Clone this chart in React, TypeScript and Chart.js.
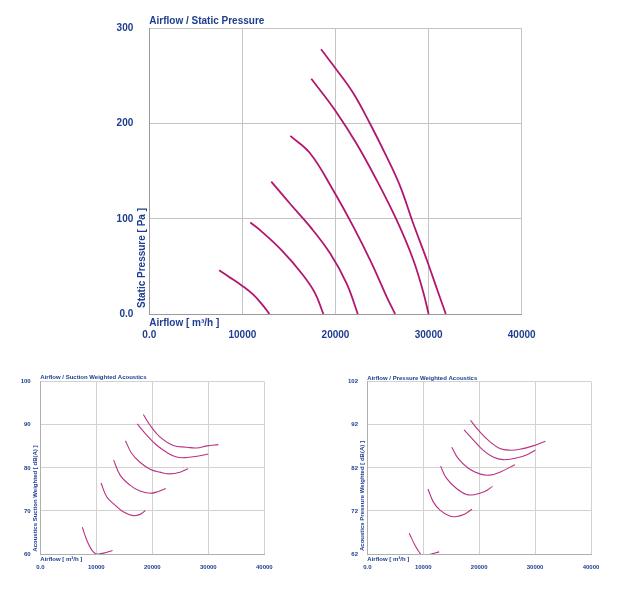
import React, { useEffect, useRef } from "react";
import { Chart, registerables } from "chart.js";

Chart.register(...registerables);

type Pt = [number, number];

// Axis tick labels
const airflowTicks = ["0.0", "10000", "20000", "30000", "40000"];
const staticPressureTicks = ["0.0", "100", "200", "300"];
const suctionDbTicks = ["60", "70", "80", "90", "100"];
const pressureDbTicks = ["62", "72", "82", "92", "102"];

// Airflow [m³/h] vs static pressure [Pa], one curve per speed step
const staticStep1: Pt[] = [[7500, 46], [8500, 39.5], [10000, 29.5], [11200, 20], [12200, 9], [12900, 0]];
const staticStep2: Pt[] = [[10850, 96], [11900, 88], [14200, 67], [16500, 41], [17800, 22], [18700, 0]];
const staticStep3: Pt[] = [[13100, 139], [15100, 116], [17250, 92], [19400, 64], [21200, 32], [22400, 0]];
const staticStep4: Pt[] = [[15150, 187], [17250, 169], [19750, 130], [21900, 92], [23900, 53], [25500, 18], [26400, 0]];
const staticStep5: Pt[] = [[17400, 247], [19950, 214], [22250, 179], [24400, 141], [26550, 99], [28350, 57], [29450, 22], [30000, 0]];
const staticStep6: Pt[] = [[18450, 278], [20150, 256], [21900, 232], [23700, 200], [25500, 165], [26950, 134], [28350, 95], [29800, 57], [31050, 22], [31850, 0]];

// Airflow vs suction side weighted sound level [dB(A)]
const suctionStep1: Pt[] = [[7500, 66.2], [8400, 62.9], [9200, 60.9], [9900, 60.05], [10400, 60.0], [11300, 60.2], [12900, 60.8]];
const suctionStep2: Pt[] = [[10850, 76.5], [11850, 73.3], [13300, 71.4], [14800, 69.8], [16600, 68.9], [17800, 69.2], [18750, 70.1]];
const suctionStep3: Pt[] = [[13100, 81.8], [14250, 78.3], [16000, 76.0], [17800, 74.6], [19600, 74.1], [21050, 74.5], [22400, 75.2]];
const suctionStep4: Pt[] = [[15200, 86.3], [16300, 83.4], [17800, 81.3], [19600, 79.7], [21350, 79.0], [23150, 78.6], [24950, 79.0], [26400, 79.8]];
const suctionStep5: Pt[] = [[17300, 90.2], [19000, 87.6], [20750, 85.3], [22550, 83.6], [24350, 82.5], [26150, 82.4], [28500, 82.8], [30000, 83.2]];
const suctionStep6: Pt[] = [[18400, 92.4], [19600, 89.9], [21350, 87.2], [23750, 85.2], [26150, 84.8], [27900, 84.6], [29700, 85.1], [31800, 85.4]];

// Airflow vs pressure side weighted sound level [dB(A)]
const pressureStep1: Pt[] = [[7500, 66.8], [8500, 64.1], [9300, 62.4], [9900, 61.5], [10900, 61.8], [12850, 62.5]];
const pressureStep2: Pt[] = [[10850, 77.1], [11800, 74.1], [13000, 72.2], [14750, 70.8], [15950, 70.7], [17450, 71.3], [18700, 72.4]];
const pressureStep3: Pt[] = [[13100, 82.4], [14150, 79.6], [15950, 77.2], [17750, 75.8], [19250, 75.8], [21000, 76.5], [22400, 77.7]];
const pressureStep4: Pt[] = [[15100, 86.8], [16250, 84.2], [18050, 81.9], [20100, 80.6], [21900, 80.3], [23700, 81.0], [26400, 82.7]];
const pressureStep5: Pt[] = [[17300, 90.8], [18950, 88.5], [20700, 86.1], [22500, 84.5], [24300, 83.9], [26650, 84.3], [28450, 85.0], [30050, 86.1]];
const pressureStep6: Pt[] = [[18450, 93.0], [20100, 90.4], [21900, 88.1], [23700, 86.5], [25500, 86.1], [27250, 86.3], [29650, 87.1], [31850, 88.2]];

const TEXT = "#1e3d8f";
const CURVE = "#b3166f";
const FONT = '"Liberation Sans", Arial, Helvetica, sans-serif';

interface PanelProps {
  left: number;
  top: number;
  width: number;
  height: number;
  area: { left: number; top: number; right: number; bottom: number };
  yMin: number;
  yMax: number;
  yStep: number;
  yLabels: string[];
  curves: Pt[][];
  title: string;
  xTitle: string;
  yTitle: string;
  fontSize: number;
  lineWidth: number;
  curveColor: string;
  gridColor: string;
  borderColor: string;
  xTickPad: number;
  yTickPad: number;
  titleDy: number;
  xTitleDy: number;
  yTitleDx: number;
  yTitleDy: number;
}

function CurvePanel(p: PanelProps) {
  const ref = useRef<HTMLCanvasElement | null>(null);

  useEffect(() => {
    if (!ref.current) return;
    const font = { family: FONT, size: p.fontSize, weight: "bold" as const };

    // Chart caption, x caption below the axis, rotated y caption next to the axis
    const captions = {
      id: "captions",
      afterDraw(chart: any) {
        const a = chart.chartArea;
        const ctx = chart.ctx as CanvasRenderingContext2D;
        ctx.save();
        ctx.fillStyle = TEXT;
        ctx.font = `bold ${p.fontSize}px ${FONT}`;
        ctx.textAlign = "left";
        ctx.textBaseline = "middle";
        ctx.fillText(p.title, a.left, a.top + p.titleDy);
        ctx.fillText(p.xTitle, a.left, a.bottom + p.xTitleDy);
        ctx.translate(a.left + p.yTitleDx, a.bottom + p.yTitleDy);
        ctx.rotate(-Math.PI / 2);
        ctx.fillText(p.yTitle, 0, 0);
        ctx.restore();
      },
    };

    const chart = new Chart(ref.current, {
      type: "line",
      data: {
        datasets: p.curves.map((c) => ({
          data: c.map(([x, y]) => ({ x, y })),
          borderColor: p.curveColor,
          borderWidth: p.lineWidth,
          pointRadius: 0,
          fill: false,
          tension: 0.4,
        })),
      },
      options: {
        responsive: false,
        animation: false,
        devicePixelRatio: 1,
        layout: {
          padding: { left: 0, top: p.area.top, right: p.width - p.area.right, bottom: 0 },
        },
        plugins: { legend: { display: false }, tooltip: { enabled: false } },
        scales: {
          x: {
            type: "linear",
            min: 0,
            max: 40000,
            ticks: {
              stepSize: 10000,
              autoSkip: false,
              maxRotation: 0,
              padding: p.xTickPad,
              color: TEXT,
              font,
              callback: (_v: any, i: number) => airflowTicks[i],
            },
            grid: { color: p.gridColor, drawTicks: false },
            border: { color: p.borderColor },
            afterFit: (s: any) => {
              s.height = p.height - p.area.bottom;
            },
          },
          y: {
            type: "linear",
            min: p.yMin,
            max: p.yMax,
            ticks: {
              stepSize: p.yStep,
              autoSkip: false,
              padding: p.yTickPad,
              color: TEXT,
              font,
              callback: (_v: any, i: number) => p.yLabels[i],
            },
            grid: { color: p.gridColor, drawTicks: false },
            border: { color: p.borderColor },
            afterFit: (s: any) => {
              s.width = p.area.left;
            },
          },
        },
      },
      plugins: [captions],
    } as any);

    return () => chart.destroy();
  }, []);

  return (
    <canvas
      ref={ref}
      width={p.width}
      height={p.height}
      style={{ position: "absolute", left: p.left, top: p.top, width: p.width, height: p.height }}
    />
  );
}

export default function App() {
  return (
    <div style={{ position: "fixed", left: 0, top: 0, width: 624, height: 592, background: "#ffffff" }}>
      <CurvePanel
        left={0}
        top={0}
        width={624}
        height={352}
        area={{ left: 149.3, top: 28.3, right: 521.7, bottom: 314 }}
        yMin={0}
        yMax={300}
        yStep={100}
        yLabels={staticPressureTicks}
        curves={[staticStep1, staticStep2, staticStep3, staticStep4, staticStep5, staticStep6]}
        title="Airflow / Static Pressure"
        xTitle="Airflow [ m³/h ]"
        yTitle="Static Pressure [ Pa ]"
        fontSize={10}
        lineWidth={1.8}
        curveColor={CURVE}
        gridColor="#c4c4c4"
        borderColor="#9a9a9a"
        xTickPad={15}
        yTickPad={16}
        titleDy={-7}
        xTitleDy={9}
        yTitleDx={-7}
        yTitleDy={-6}
      />
      <CurvePanel
        left={0}
        top={365}
        width={300}
        height={227}
        area={{ left: 40.3, top: 16.7, right: 264.3, bottom: 189 }}
        yMin={60}
        yMax={100}
        yStep={10}
        yLabels={suctionDbTicks}
        curves={[suctionStep1, suctionStep2, suctionStep3, suctionStep4, suctionStep5, suctionStep6]}
        title="Airflow / Suction Weighted Acoustics"
        xTitle="Airflow [ m³/h ]"
        yTitle="Acoustics Suction Weighted [ dB(A) ]"
        fontSize={6}
        lineWidth={1.1}
        curveColor="#bb3183"
        gridColor="#d2d2d2"
        borderColor="#b0b0b0"
        xTickPad={9.4}
        yTickPad={9.6}
        titleDy={-4}
        xTitleDy={5}
        yTitleDx={-5.3}
        yTitleDy={-2.3}
      />
      <CurvePanel
        left={300}
        top={365}
        width={324}
        height={227}
        area={{ left: 67.3, top: 16.7, right: 291, bottom: 189 }}
        yMin={62}
        yMax={102}
        yStep={10}
        yLabels={pressureDbTicks}
        curves={[pressureStep1, pressureStep2, pressureStep3, pressureStep4, pressureStep5, pressureStep6]}
        title="Airflow / Pressure Weighted Acoustics"
        xTitle="Airflow [ m³/h ]"
        yTitle="Acoustics Pressure Weighted [ dB(A) ]"
        fontSize={6}
        lineWidth={1.1}
        curveColor="#bb3183"
        gridColor="#d2d2d2"
        borderColor="#b0b0b0"
        xTickPad={9.4}
        yTickPad={9.3}
        titleDy={-3.7}
        xTitleDy={5}
        yTitleDx={-5.3}
        yTitleDy={-3}
      />
    </div>
  );
}
